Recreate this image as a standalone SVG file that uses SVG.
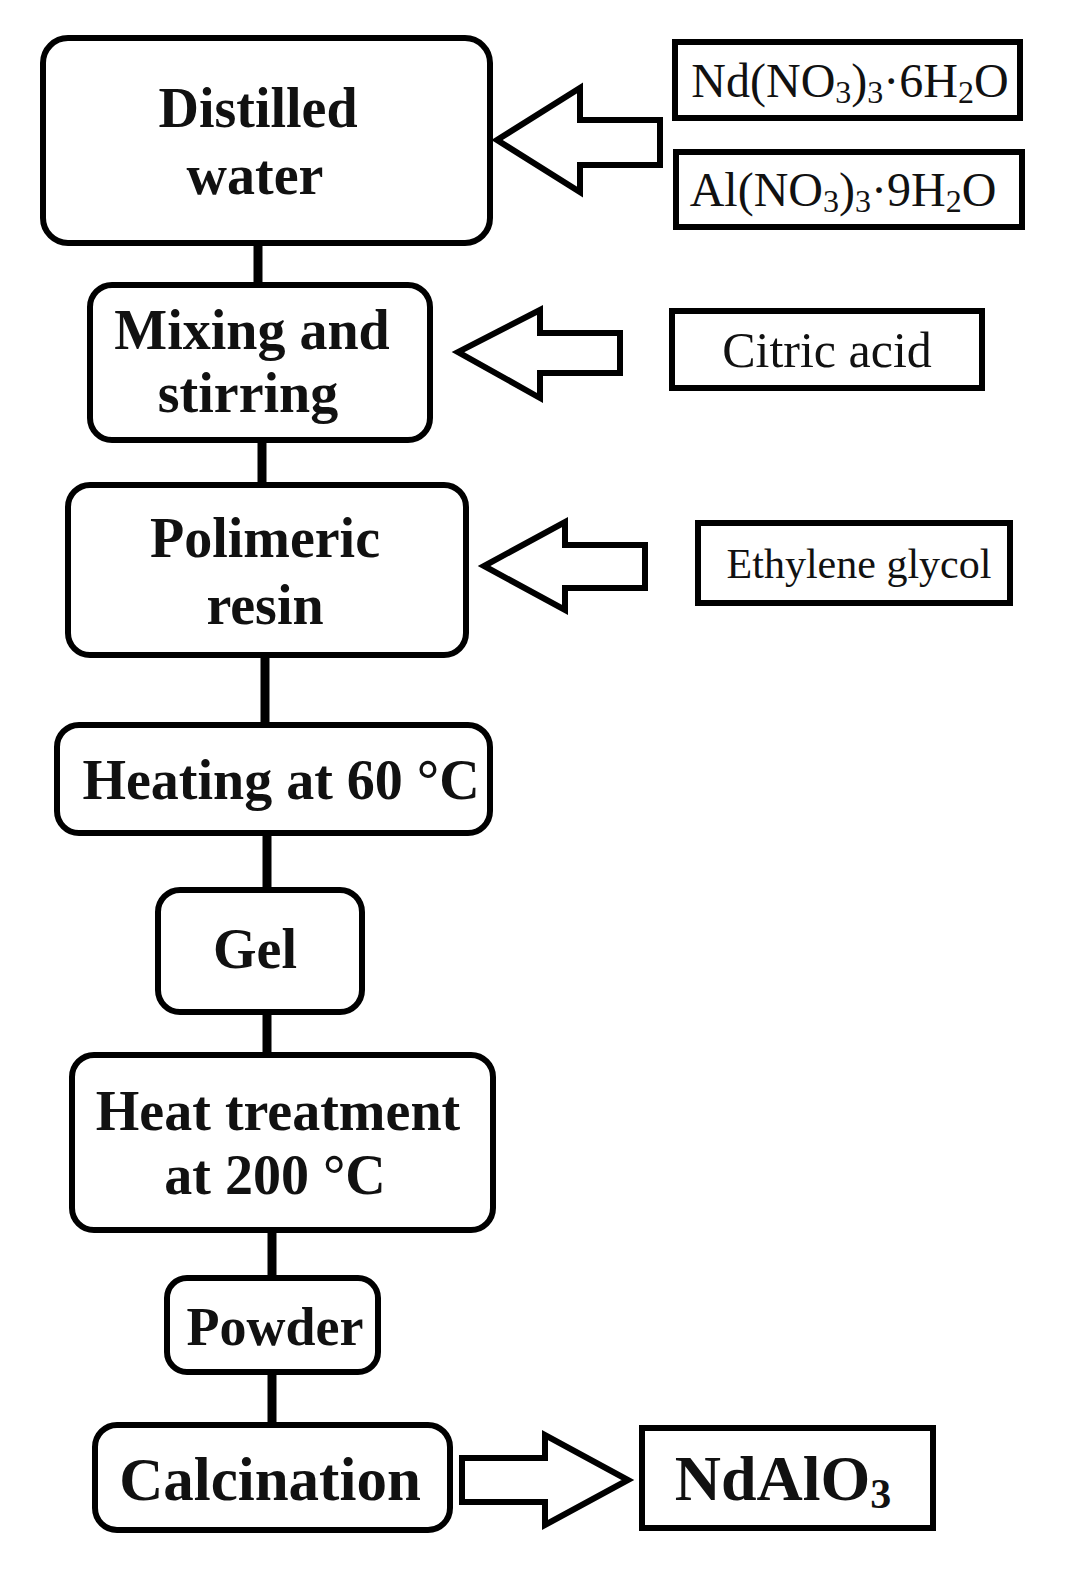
<svg xmlns="http://www.w3.org/2000/svg" width="1078" height="1589" viewBox="0 0 1078 1589">
<style>
.n{fill:#fff;stroke:#000;stroke-width:6}
.b{fill:#fff;stroke:#000;stroke-width:6}
.a{fill:#fff;stroke:#000;stroke-width:6;stroke-linejoin:miter}
.t{font-family:"Liberation Serif",serif;font-weight:bold;font-size:56px;text-anchor:middle;fill:#111}
.r{font-family:"Liberation Serif",serif;font-size:48px;text-anchor:middle;fill:#111}
.c{stroke:#000;stroke-width:9}
</style>
<rect width="1078" height="1589" fill="#fff"/>
<g id="connectors">
<line class="c" x1="258" y1="243" x2="258" y2="285"/>
<line class="c" x1="262" y1="440" x2="262" y2="485"/>
<line class="c" x1="265" y1="655" x2="265" y2="725"/>
<line class="c" x1="267" y1="833" x2="267" y2="890"/>
<line class="c" x1="267" y1="1012" x2="267" y2="1055"/>
<line class="c" x1="272" y1="1230" x2="272" y2="1278"/>
<line class="c" x1="272" y1="1372" x2="272" y2="1425"/>
<polygon class="a" points="660,120 580,120 580,88 497,140 580,192 580,165 660,165"/>
<polygon class="a" points="620,333 540,333 540,310 458,352 540,398 540,373 620,373"/>
<polygon class="a" points="645,545 565,545 565,522 484,566 565,610 565,588 645,588"/>
<polygon class="a" points="462,1458 545,1458 545,1435 628,1480 545,1525 545,1502 462,1502"/>
</g>
<g id="distilled"><rect class="n" x="43" y="38" width="447" height="205" rx="25"/><text class="t" x="258" y="127">Distilled</text><text class="t" x="255" y="194">water</text></g>
<g id="mixing"><rect class="n" x="90" y="285" width="340" height="155" rx="22"/><text class="t" x="252" y="349">Mixing and</text><text class="t" x="248" y="412">stirring</text></g>
<g id="resin"><rect class="n" x="68" y="485" width="398" height="170" rx="22"/><text class="t" x="265" y="557">Polimeric</text><text class="t" x="265" y="624">resin</text></g>
<g id="heating"><rect class="n" x="57" y="725" width="433" height="108" rx="22"/><text class="t" x="281" y="799">Heating at 60 °C</text></g>
<g id="gel"><rect class="n" x="158" y="890" width="204" height="122" rx="22"/><text class="t" x="255" y="968">Gel</text></g>
<g id="heattreat"><rect class="n" x="72" y="1055" width="421" height="175" rx="22"/><text class="t" x="278" y="1130">Heat treatment</text><text class="t" x="275" y="1194">at 200 °C</text></g>
<g id="powder"><rect class="n" x="167" y="1278" width="211" height="94" rx="20"/><text class="t" x="275" y="1345" style="font-size:54px">Powder</text></g>
<g id="calcination"><rect class="n" x="95" y="1425" width="355" height="105" rx="22"/><text class="t" x="270" y="1500" style="font-size:61px">Calcination</text></g>
<g id="ndalo3"><rect class="b" x="642" y="1428" width="291" height="100"/><text class="t" x="783" y="1500" style="font-size:64px">NdAlO<tspan font-size="42" dy="8">3</tspan></text></g>
<g id="nd"><rect class="b" x="675" y="42" width="345" height="76"/><text class="r" x="850" y="97">Nd(NO<tspan font-size="32" dy="6">3</tspan><tspan dy="-6">)</tspan><tspan font-size="32" dy="6">3</tspan><tspan dy="-6">·6H</tspan><tspan font-size="32" dy="6">2</tspan><tspan dy="-6">O</tspan></text></g>
<g id="al"><rect class="b" x="676" y="152" width="346" height="75"/><text class="r" x="843" y="206">Al(NO<tspan font-size="32" dy="6">3</tspan><tspan dy="-6">)</tspan><tspan font-size="32" dy="6">3</tspan><tspan dy="-6">·9H</tspan><tspan font-size="32" dy="6">2</tspan><tspan dy="-6">O</tspan></text></g>
<g id="citric"><rect class="b" x="672" y="311" width="310" height="77"/><text class="r" x="827" y="367" style="font-size:50px">Citric acid</text></g>
<g id="glycol"><rect class="b" x="698" y="523" width="312" height="80"/><text class="r" x="859" y="578" style="font-size:42px">Ethylene glycol</text></g>
</svg>
